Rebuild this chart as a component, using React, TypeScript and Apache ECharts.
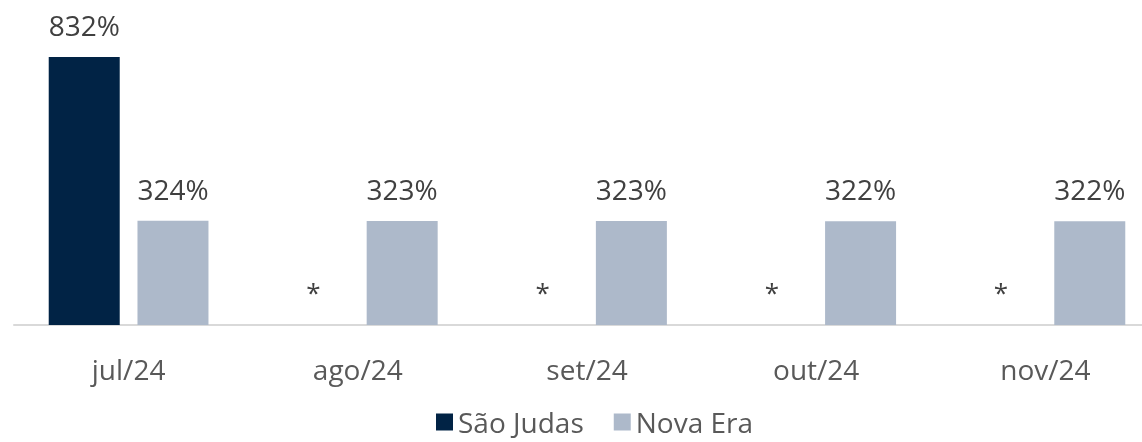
import React, { useEffect, useRef } from "react";
import * as echarts from "echarts";

const categories = ["jul/24", "ago/24", "set/24", "out/24", "nov/24"];
const saoJudas: (number | null)[] = [832, null, null, null, null];
const novaEra = [324, 323, 323, 322, 322];
const seriesNames = ["São Judas", "Nova Era"];
const missingMark = "*";

const FONT = "'Open Sans', sans-serif";

export default function App() {
  const ref = useRef<HTMLDivElement>(null);
  useEffect(() => {
    if (!ref.current) return;
    const chart = echarts.init(ref.current, undefined, { renderer: "svg" });
    const labelStyle = {
      show: true,
      position: "top" as const,
      distance: 18,
      fontFamily: FONT,
      fontSize: 28,
      color: "#404040",
      formatter: (p: any) => `${p.value}%`,
    };
    chart.setOption({
      animation: false,
      textStyle: { fontFamily: FONT },
      grid: { left: 14, width: 1146, top: 57, bottom: 117, containLabel: false },
      legend: {
        data: seriesNames,
        left: 431,
        top: 403,
        itemWidth: 17,
        itemHeight: 17,
        itemGap: 30,
        icon: "rect",
        textStyle: { fontFamily: FONT, fontSize: 28, color: "#595959" },
      },
      xAxis: {
        type: "category",
        data: categories,
        axisLine: { show: true, lineStyle: { color: "#D9D9D9", width: 2 } },
        axisTick: { show: false },
        axisLabel: { margin: 30, fontFamily: FONT, fontSize: 28, color: "#595959" },
      },
      yAxis: {
        type: "value",
        min: 0,
        max: 832,
        show: false,
        splitLine: { show: false },
      },
      series: [
        {
          name: seriesNames[0],
          type: "bar",
          barWidth: 71,
          barGap: "25%",
          itemStyle: { color: "#012345" },
          label: labelStyle,
          data: saoJudas.map((v) =>
            v === null
              ? {
                  value: 0,
                  label: {
                    formatter: missingMark,
                    color: "#404040",
                    fontSize: 26,
                    distance: 20,
                  },
                }
              : v
          ),
        },
        {
          name: seriesNames[1],
          type: "bar",
          barWidth: 71,
          itemStyle: { color: "#ADB9CA" },
          label: labelStyle,
          data: novaEra,
        },
      ],
    });
    return () => chart.dispose();
  }, []);
  return (
    <div style={{ position: "fixed", left: 0, top: 0, width: 1142, height: 442, overflow: "hidden" }}>
      <div ref={ref} style={{ width: 1170, height: 442 }} />
    </div>
  );
}
